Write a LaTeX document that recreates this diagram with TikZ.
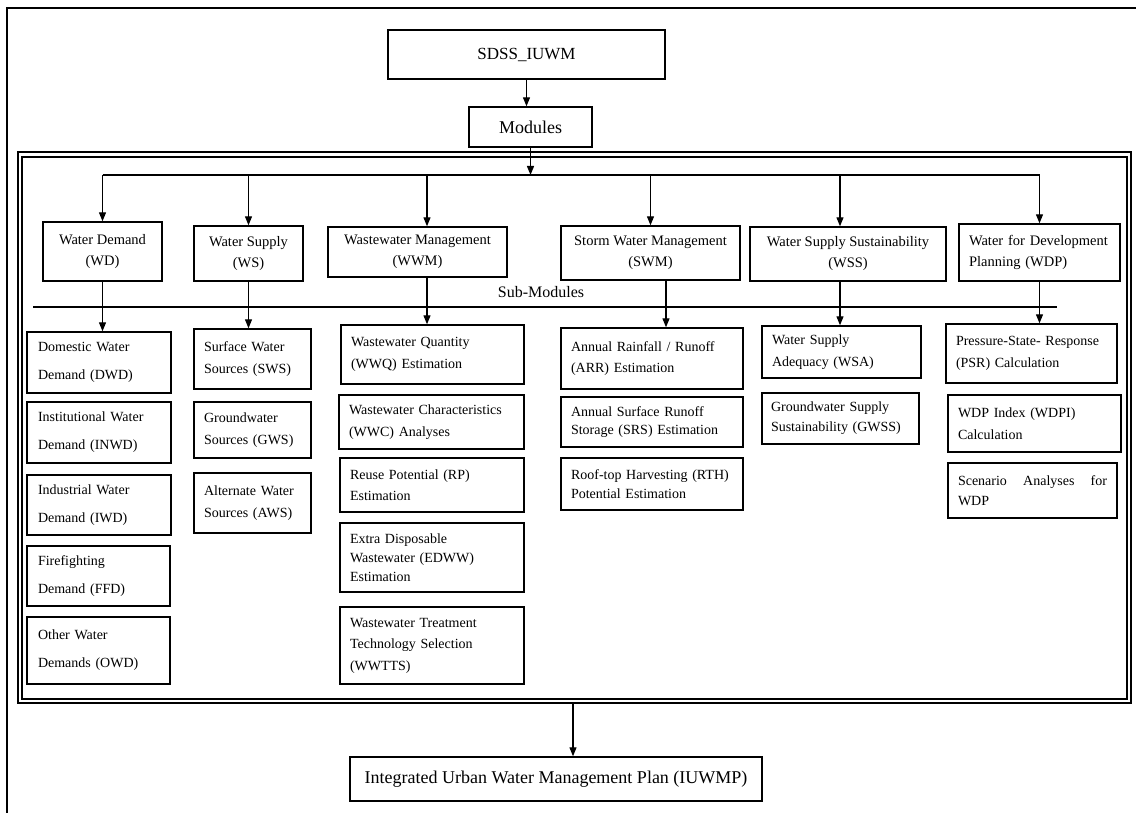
\documentclass[tikz,border=0pt]{standalone}
\usepackage{fontspec}
\setmainfont{Liberation Serif}
\usetikzlibrary{arrows.meta}
\begin{document}
\begin{tikzpicture}[x=1pt,y=-1pt,
  box/.style={draw, line width=1.4pt, rectangle, inner sep=0pt},
  mod/.style={box, align=center, font=\fontsize{14.5}{21}\selectfont},
  sub/.style={box, align=left, font=\fontsize{14}{21.5}\selectfont},
  subw/.style={box, align=left, font=\fontsize{14}{28}\selectfont},
  conn/.style={line width=1.2pt, -{Triangle[length=9pt,width=7pt]}},
  plain/.style={line width=1.2pt},
]
\useasboundingbox (0,0) rectangle (1136,813);
% outer frame
\draw[line width=1.4pt] (7,813) -- (7,8) -- (1136,8);
% inner double frame
\draw[line width=1.2pt] (18,152) rectangle (1131,703);
\draw[line width=1.2pt] (22,157) rectangle (1127,699);

% top nodes
\node[box, minimum width=277pt, minimum height=49pt, font=\fontsize{17}{20}\selectfont] (sdss) at (526.5,54.5) {SDSS\_IUWM};
\node[box, minimum width=123pt, minimum height=40pt, font=\fontsize{18}{21}\selectfont] (modules) at (530.5,127) {Modules};
\coordinate (bus) at (528,175);

% modules
\node[mod, minimum width=119pt, minimum height=59pt] (wd) at (102.5,251.5) {Water Demand\\(WD)};
\node[mod, minimum width=109pt, minimum height=55pt] (ws) at (248.5,253.5) {Water Supply\\(WS)};
\node[mod, minimum width=179pt, minimum height=50pt] (wwm) at (417.5,252) {Wastewater Management\\(WWM)};
\node[mod, minimum width=179pt, minimum height=54pt] (swm) at (650.5,253) {Storm Water Management\\(SWM)};
\node[mod, minimum width=196pt, minimum height=54pt] (wss) at (848,254) {Water Supply Sustainability\\(WSS)};
\node[mod, align=left, minimum width=161pt, minimum height=57pt, text width=141pt] (wdp) at (1039.5,252.5) {Water for Development\\Planning (WDP)};

% sub-modules label and separator
\node[font=\fontsize{16}{19}\selectfont] (sublabel) at (541,292) {Sub-Modules};
\coordinate (sepl) at (33,307);
\coordinate (sepr) at (1057,307);
\draw[plain] (sepl) -- (sepr);

% WD column
\node[subw, minimum width=144pt, minimum height=61pt, text width=122pt] (dwd) at (99,362.5) {Domestic Water\\Demand (DWD)};
\node[subw, minimum width=144pt, minimum height=61pt, text width=122pt] (inwd) at (99,432.5) {Institutional Water\\Demand (INWD)};
\node[subw, minimum width=144pt, minimum height=60pt, text width=122pt] (iwd) at (99,505) {Industrial Water\\Demand (IWD)};
\node[subw, minimum width=143pt, minimum height=60pt, text width=121pt] (ffd) at (98.5,576) {Firefighting\\Demand (FFD)};
\node[subw, minimum width=143pt, minimum height=67pt, text width=121pt] (owd) at (98.5,650.5) {Other Water\\Demands (OWD)};

% WS column
\node[sub, minimum width=117pt, minimum height=60pt, text width=97pt] (sws) at (252.5,359) {Surface Water\\Sources (SWS)};
\node[sub, minimum width=117pt, minimum height=56pt, text width=97pt] (gws) at (252.5,430) {Groundwater\\Sources (GWS)};
\node[sub, minimum width=117pt, minimum height=60pt, text width=97pt] (aws) at (252.5,503) {Alternate Water\\Sources (AWS)};

% WWM column
\node[sub, minimum width=183pt, minimum height=59pt, text width=163pt] (wwq) at (432.5,354.5) {Wastewater Quantity\\(WWQ) Estimation};
\node[sub, minimum width=185pt, minimum height=54pt, text width=165pt] (wwc) at (431.5,422) {Wastewater Characteristics\\(WWC) Analyses};
\node[sub, minimum width=184pt, minimum height=54pt, text width=164pt] (rp) at (432,485) {Reuse Potential (RP)\\Estimation};
\node[sub, font=\fontsize{14}{19}\selectfont, minimum width=184pt, minimum height=69pt, text width=164pt] (edww) at (432,557.5) {Extra Disposable\\Wastewater (EDWW)\\Estimation};
\node[sub, minimum width=184pt, minimum height=77pt, text width=164pt] (wwtts) at (432,645.5) {Wastewater Treatment\\Technology Selection\\(WWTTS)};

% SWM column
\node[sub, minimum width=182pt, minimum height=61pt, text width=162pt] (arrn) at (652,358.5) {Annual Rainfall / Runoff\\(ARR) Estimation};
\node[sub, font=\fontsize{14}{18.5}\selectfont, minimum width=182pt, minimum height=50pt, text width=162pt] (srs) at (652,422) {Annual Surface Runoff\\Storage (SRS) Estimation};
\node[sub, font=\fontsize{14}{19}\selectfont, minimum width=182pt, minimum height=52pt, text width=162pt] (rth) at (652,484) {Roof-top Harvesting (RTH)\\Potential Estimation};

% WSS column
\node[sub, minimum width=159pt, minimum height=52pt, text width=139pt] (wsa) at (841.5,352) {Water Supply\\Adequacy (WSA)};
\node[sub, font=\fontsize{14}{20}\selectfont, minimum width=157pt, minimum height=51pt, text width=139pt] (gwss) at (840.5,418.5) {Groundwater Supply\\Sustainability (GWSS)};

% WDP column
\node[sub, minimum width=171pt, minimum height=59pt, text width=151pt] (psr) at (1031.5,353.5) {Pressure-State- Response\\(PSR) Calculation};
\node[sub, minimum width=173pt, minimum height=57pt, text width=153pt] (wdpi) at (1034.5,423.5) {WDP Index (WDPI)\\Calculation};
\node[sub, font=\fontsize{14}{20}\selectfont, minimum width=169pt, minimum height=55pt, text width=149pt] (scen) at (1032.5,490.5) {Scenario\hfill Analyses\hfill for\\WDP};

% bottom node
\node[box, minimum width=412pt, minimum height=44pt, font=\fontsize{18}{21}\selectfont] (iuwmp) at (556,779) {Integrated Urban Water Management Plan (IUWMP)};
\coordinate (fb) at (573,703);

% connectors
\draw[conn] (sdss.south) -- (sdss.south |- modules.north);
\draw[conn] (modules.south) -- (modules.south |- bus);
\draw[plain] (wd.north |- bus) -- (wdp.north |- bus);
\draw[conn] (wd.north |- bus) -- (wd.north);
\draw[conn] (ws.north |- bus) -- (ws.north);
\draw[conn] ([xshift=9.5pt]wwm.north |- bus) -- ([xshift=9.5pt]wwm.north);
\draw[conn] (swm.north |- bus) -- (swm.north);
\draw[conn] ([xshift=-8pt]wss.north |- bus) -- ([xshift=-8pt]wss.north);
\draw[conn] (wdp.north |- bus) -- (wdp.north);

\draw[conn] (wd.south) -- (wd.south |- dwd.north);
\draw[conn] (ws.south) -- (ws.south |- sws.north);
\draw[conn] ([xshift=9.5pt]wwm.south) -- ([xshift=9.5pt]wwm.south |- wwq.north);
\draw[conn] ([xshift=15.5pt]swm.south) -- ([xshift=15.5pt]swm.south |- arrn.north);
\draw[conn] ([xshift=-8pt]wss.south) -- ([xshift=-8pt]wss.south |- wsa.north);
\draw[conn] (wdp.south) -- (wdp.south |- psr.north);

\draw[conn] (fb) -- (fb |- iuwmp.north);
\end{tikzpicture}
\end{document}
